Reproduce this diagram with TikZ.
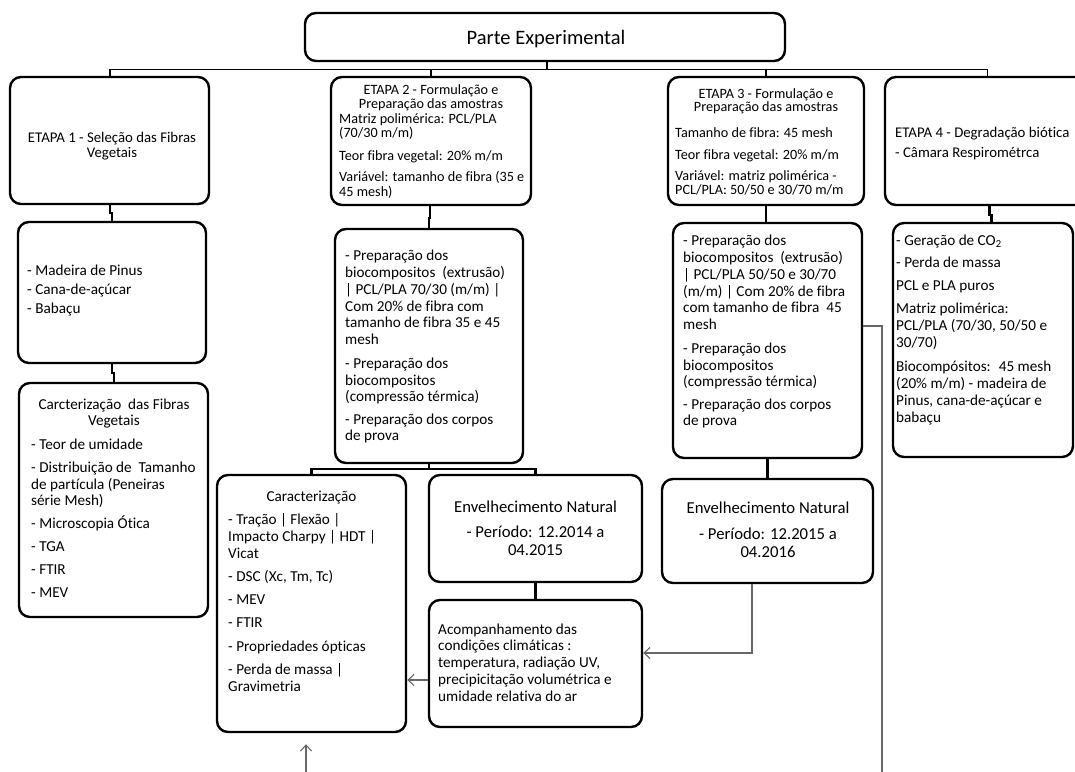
\documentclass[tikz,border=0pt]{standalone}
\usepackage{fontspec}
\setmainfont{Carlito}[Ligatures=NoCommon]
\usetikzlibrary{fit,arrows.meta}
% a rounded box spanning two corner points
\newcommand\mkbox[5]{%
  \path (#2,#3) coordinate (#1-nw) (#4,#5) coordinate (#1-se);
  \node[box, fit=(#1-nw)(#1-se)] (#1) {};}
% fixed height of the first line, so that every text hangs from its top
\newcommand\fl{\rule{0pt}{12pt}}
\newcommand\flb{\rule{0pt}{14pt}}
\begin{document}
\begin{tikzpicture}[x=1pt,y=-1pt,
  box/.style={draw=black, line width=2.4pt, rounded corners=11pt, inner sep=0pt},
  bus/.style={draw=black, line width=1.3pt},
  conn/.style={draw=black, line width=2.2pt},
  link/.style={draw=black!60, line width=1.1pt},
  arr/.style={link, -{Straight Barb[length=6pt,width=11pt]}},
  txt/.style={inner sep=0pt, align=left, text=black, font=\fontsize{15.2}{16.7}\selectfont},
  ctxt/.style={txt, align=center, anchor=north},
  ltxt/.style={txt, anchor=north west},
  small/.style={font=\fontsize{14.2}{14.5}\selectfont},
  head/.style={font=\fontsize{16.7}{18}\selectfont}]
\useasboundingbox (0,0) rectangle (1075,771);
\clip (0,0) rectangle (1075,771);

% ---- boxes ----
\mkbox{parte}{305}{13}{785}{61}
\mkbox{e1}{10}{77}{209}{204}
\mkbox{e2}{331}{77}{531}{205}
\mkbox{e3}{668}{77}{864}{205}
\mkbox{e4}{885}{77}{1095}{205}
\mkbox{m1}{18}{222}{206}{363}
\mkbox{c1}{19}{383}{208}{617}
\mkbox{p2}{335}{229}{523}{463}
\mkbox{p3}{673}{223}{862}{458}
\mkbox{p4}{893}{223}{1073}{457}
\mkbox{car}{217}{475}{406}{732}
\mkbox{env1}{429}{475}{642}{582}
\mkbox{acomp}{429}{600}{642}{727}
\mkbox{env2}{662}{479}{873}{583}

% ---- texts ----
\node[txt, anchor=base, font=\fontsize{20.5}{24}\selectfont] (tparte) at (546,44) {Parte Experimental};

\node[ctxt, font=\fontsize{14.8}{15}\selectfont] (t1) at (112,130)
  {\fl ETAPA 1 - Seleção das Fibras\\Vegetais};

\node[ctxt, font=\fontsize{14.2}{14}\selectfont] (t2h) at (431,82)
  {\fl ETAPA 2 - Formulação e\\Preparação das amostras};
\node[ltxt, small] (t2) at (339,111)
  {\fl Matriz polimérica: PCL/PLA\\(70/30 m/m)\\[8pt]Teor fibra vegetal: 20\% m/m\\[7pt]Variável: tamanho de fibra (35 e\\45 mesh)};

\node[ctxt, font=\fontsize{14.2}{13}\selectfont] (t3h) at (766,86)
  {\fl ETAPA 3 - Formulação e\\Preparação das amostras};
\node[ltxt, small] (t3) at (675,125)
  {\fl Tamanho de fibra: 45 mesh\\[7.5pt]Teor fibra vegetal: 20\% m/m\\[6.5pt]Variável: matriz polimérica -\\PCL/PLA: 50/50 e 30/70 m/m};

\node[ltxt, font=\fontsize{14.8}{14.5}\selectfont] (t4) at (895,125)
  {\fl ETAPA 4 - Degradação biótica\\[5.5pt]- Câmara Respirométrca};

\node[ltxt] (tm1) at (27,263)
  {\fl - Madeira de Pinus\\[2.3pt]- Cana-de-açúcar\\[2.3pt]- Babaçu};

\node[ctxt, font=\fontsize{15.2}{16}\selectfont] (tc1h) at (114,397)
  {\fl Carcterização~ das Fibras\\Vegetais};
\node[ltxt, font=\fontsize{15.2}{16.5}\selectfont] (tc1) at (31,437)
  {\fl - Teor de umidade\\[7pt]- Distribuição de~ Tamanho\\de partícula (Peneiras\\série Mesh)\\[6.5pt]- Microscopia Ótica\\[6.5pt]- TGA\\[6.5pt]- FTIR\\[6.5pt]- MEV};

\node[ltxt] (tp2) at (345,248.7)
  {\fl - Preparação dos\\biocompositos~ (extrusão)\\| PCL/PLA 70/30 (m/m) |\\Com 20\% de fibra com\\tamanho de fibra 35 e 45\\mesh\\[7.3pt]- Preparação dos\\biocompositos\\(compressão térmica)\\[5.7pt]- Preparação dos corpos\\de prova};

\node[ltxt] (tp3) at (683,233.7)
  {\fl - Preparação dos\\biocompositos~ (extrusão)\\| PCL/PLA 50/50 e 30/70\\(m/m) | Com 20\% de fibra\\com tamanho de fibra~ 45\\mesh\\[7.3pt]- Preparação dos\\biocompositos\\(compressão térmica)\\[5.7pt]- Preparação dos corpos\\de prova};

\node[ltxt, font=\fontsize{15.2}{17}\selectfont] (tp4) at (896,233)
  {\fl - Geração de CO\textsubscript{2}\\[5pt]- Perda de massa\\[6pt]PCL e PLA puros\\[6pt]Matriz polimérica:\\PCL/PLA (70/30, 50/50 e\\30/70)\\[7pt]Biocompósitos:~ 45 mesh\\(20\% m/m) - madeira de\\Pinus, cana-de-açúcar e\\babaçu};

\node[txt, anchor=base] (tcarh) at (311.5,501) {Caracterização};
\node[ltxt, font=\fontsize{15.2}{17}\selectfont] (tcar) at (228,512)
  {\fl - Tração | Flexão |\\Impacto Charpy | HDT |\\Vicat\\[6pt]- DSC (Xc, Tm, Tc)\\[6pt]- MEV\\[6pt]- FTIR\\[7pt]- Propriedades ópticas\\[6pt]- Perda de massa |\\Gravimetria};

\node[ctxt, head] (tenv1) at (535.5,498)
  {\flb Envelhecimento Natural\\[7pt]- Período: 12.2014 a\\04.2015};

\node[ltxt, font=\fontsize{15.2}{16.75}\selectfont] (tacomp) at (438,622)
  {\fl Acompanhamento das\\condições climáticas :\\temperatura, radiação UV,\\precipicitação volumétrica e\\umidade relativa do ar};

\node[ctxt, head] (tenv2) at (768,499)
  {\flb Envelhecimento Natural\\[8pt]- Período: 12.2015 a\\04.2016};

% ---- top level tree ----
\draw[bus] ([xshift=2pt]parte.south) -- ++(0,7) coordinate (hub);
\draw[bus] (hub) -| ([xshift=0.5pt]e1.north);
\draw[bus] (hub) -| (e2.north);
\draw[bus] (hub) -| (e3.north);
\draw[bus] (hub) -| ([xshift=-2.5pt]e4.north);

% ---- column links ----
\draw[conn] ([xshift=0.5pt]e1.south) -- ++(0,8) -| (m1.north);
\draw[conn] (m1.south) -- ++(0,9) -| ([xshift=0.5pt]c1.north);
\draw[conn] ([xshift=-1pt]e2.south) -- ++(0,12) -| (p2.north);
\draw[conn] (e3.south) -- (e3.south |- p3.north);
\draw[conn] ([xshift=-0.5pt]e4.south) -- ++(0,9) coordinate (j4)
  -- ([xshift=2pt]j4) -- ([xshift=2pt]j4 |- p4.north);
\draw[conn] (p2.south) -- ++(0,5) coordinate (hub2);
\draw[conn] (hub2) -| (car.north);
\draw[conn] (hub2) -| (env1.north);
\draw[conn] (env1.south) -- (acomp.north);
\draw[conn] (p3.south) -- (env2.north);

% ---- arrows ----
\draw[arr] ([yshift=-16.5pt]acomp.west) -- ([yshift=-16.5pt]acomp.west -| car.east);
\draw[arr] ([xshift=-15.5pt]env2.south) |- ([yshift=10.5pt]acomp.east);
\coordinate (p3out) at (882,780);
\draw[link] ([yshift=14.5pt]p3.east) -| (p3out);
\coordinate (carin) at (306,780);
\draw[arr] (carin) -- ([xshift=-5.5pt,yshift=-11pt]car.south);
\end{tikzpicture}
\end{document}
